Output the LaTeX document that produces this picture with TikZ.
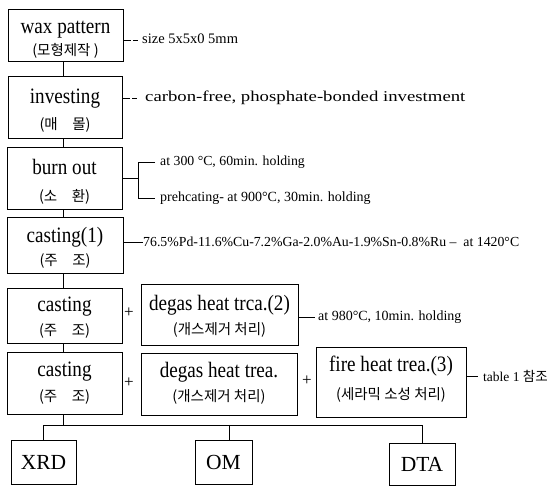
\documentclass[tikz,border=0pt]{standalone}
\usepackage{fontspec}
\setmainfont{Liberation Serif}
\newfontfamily\cond[FakeStretch=0.87]{Liberation Serif}
\newfontfamily\kr{Noto Sans CJK KR}
\begin{document}
\begin{tikzpicture}[x=1pt,y=-1pt,
  box/.style={draw, line width=0.7pt, inner sep=0pt},
  mt/.style={font=\cond\fontsize{22}{24}\selectfont, inner sep=0pt, anchor=base},
  kt/.style={font=\kr\fontsize{14.5}{16}\selectfont, inner sep=0pt, anchor=base},
  bt/.style={font=\fontsize{21.5}{24}\selectfont},
  ann/.style={inner sep=0pt, anchor=base west},
  ln/.style={line width=0.7pt},
  dl/.style={line width=0.7pt, dash pattern=on 8pt off 2pt on 5pt off 20pt},
  plus/.style={font=\fontsize{17}{18}\selectfont, inner sep=0pt}]
\useasboundingbox (0,0) rectangle (555,486);
\fill[white] (0,0) rectangle (555,486);
% main boxes
\node[box, minimum width=115pt, minimum height=52pt] (wax) at (65.5,35) {};
\node[mt] (waxA) at ([yshift=1pt]wax.center) {wax pattern};
\node[kt] (waxB) at ([yshift=-21pt]wax.center) {(모형제작 )};
\node[box, minimum width=114pt, minimum height=62pt] (invest) at (65,107) {};
\node[mt] (investA) at ([yshift=3pt]invest.center) {investing};
\node[kt] (investB) at ([yshift=-23pt]invest.center) {(매　몰)};
\node[box, minimum width=115pt, minimum height=62pt] (burn) at (64.5,178) {};
\node[mt] (burnA) at ([yshift=3pt]burn.center) {burn out};
\node[kt] (burnB) at ([yshift=-24pt]burn.center) {(소　환)};
\node[box, minimum width=116pt, minimum height=56pt] (cast1) at (65,245) {};
\node[mt] (cast1A) at ([yshift=2pt]cast1.center) {casting(1)};
\node[kt] (cast1B) at ([yshift=-21pt]cast1.center) {(주　조)};
\node[box, minimum width=115pt, minimum height=55pt] (cast2) at (64.5,315.5) {};
\node[mt] (cast2A) at ([yshift=4pt]cast2.center) {casting};
\node[kt] (cast2B) at ([yshift=-20pt]cast2.center) {(주　조)};
\node[box, minimum width=157pt, minimum height=61pt] (degas2) at (219.5,314.5) {};
\node[mt] (degas2A) at ([yshift=4pt]degas2.center) {degas heat trca.(2)};
\node[kt] (degas2B) at ([yshift=-20pt]degas2.center) {(개스제거 처리)};
\node[box, minimum width=115pt, minimum height=62pt] (cast3) at (64.5,383) {};
\node[mt] (cast3A) at ([yshift=6pt]cast3.center) {casting};
\node[kt] (cast3B) at ([yshift=-19pt]cast3.center) {(주　조)};
\node[box, minimum width=156pt, minimum height=62pt] (degas3) at (219,384) {};
\node[mt] (degas3A) at ([yshift=6pt]degas3.center) {degas heat trea.};
\node[kt] (degas3B) at ([yshift=-18pt]degas3.center) {(개스제거 처리)};
\node[box, minimum width=150pt, minimum height=70pt] (fire) at (391,382) {};
\node[mt] (fireA) at ([yshift=10pt]fire.center) {fire heat trea.(3)};
\node[kt] (fireB) at ([yshift=-18pt]fire.center) {(세라믹 소성 처리)};
% plus signs
\node[plus] (p1) at (129,313) {+};
\node[plus] (p2) at (129,383) {+};
\node[plus] (p3) at (307,381) {+};
% bottom boxes
\node[box, bt, minimum width=65pt, minimum height=44pt] (XRD) at (43.5,462) {XRD};
\node[box, bt, minimum width=57pt, minimum height=44pt] (OM) at (223.5,462) {OM};
\node[box, bt, minimum width=66pt, minimum height=42pt] (DTA) at (422,464) {DTA};
% column connectors
\coordinate (colx) at (63,0);
\draw[ln] (colx |- wax.south) -- (colx |- invest.north);
\draw[ln] (colx |- invest.south) -- (colx |- burn.north);
\draw[ln] (colx |- burn.south) -- (colx |- cast1.north);
\draw[ln] (colx |- cast1.south) -- (colx |- cast2.north);
\draw[ln] (colx |- cast2.south) -- (colx |- cast3.north);
\coordinate (bus) at (0,425);
\coordinate (omx) at (229,0);
\draw[ln] (colx |- cast3.south) -- (colx |- bus);
\draw[ln] (XRD.north) -- (XRD.north |- bus) -- (DTA.north |- bus) -- (DTA.north);
\draw[ln] (omx |- bus) -- (omx |- OM.north);
% annotations
\node[ann, font=\fontsize{14.5}{16}\selectfont] (t1) at (142,44) {size 5x5x0 5mm};
\coordinate (l1) at (139,40);
\draw[dl] (wax.east |- l1) -- (l1);
\node[ann, font=\fontsize{15}{16}\selectfont] (t2) at (145,102) {\scalebox{1.25}[1]{carbon-free, phosphate-bonded investment}};
\coordinate (l2) at (140,98);
\draw[dl] (invest.east |- l2) -- (l2);
\node[ann, font=\fontsize{13.8}{16}\selectfont] (t3) at (160,166) {at 300 °C, 60min. holding};
\node[ann, font=\fontsize{14}{16}\selectfont] (t4) at (160,202) {prehcating- at 900°C, 30min. holding};
\coordinate (bj) at (138,178);
\draw[ln] (burn.east |- bj) -- (bj);
\draw[ln] ([xshift=-5pt]t3.west) -| (bj |- t4.west) -- ([xshift=-5pt]t4.west);
\node[ann, font=\fontsize{13.8}{16}\selectfont] (t5) at (143,247) {76.5\%Pd-11.6\%Cu-7.2\%Ga-2.0\%Au-1.9\%Sn-0.8\%Ru –\ \ at 1420°C};
\draw[ln] (cast1.east |- t5.west) -- (t5.west);
\node[ann, font=\fontsize{14}{16}\selectfont] (t6) at (318,321) {at 980°C, 10min. holding};
\draw[ln] (degas2.east |- t6.west) -- ([xshift=-3pt]t6.west);
\node[ann, font=\fontsize{13.5}{16}\selectfont] (t7) at (483,382) {table 1 {\kr 참조}};
\draw[ln] (fire.east |- t7.west) -- ([xshift=-5pt]t7.west);
\end{tikzpicture}
\end{document}
